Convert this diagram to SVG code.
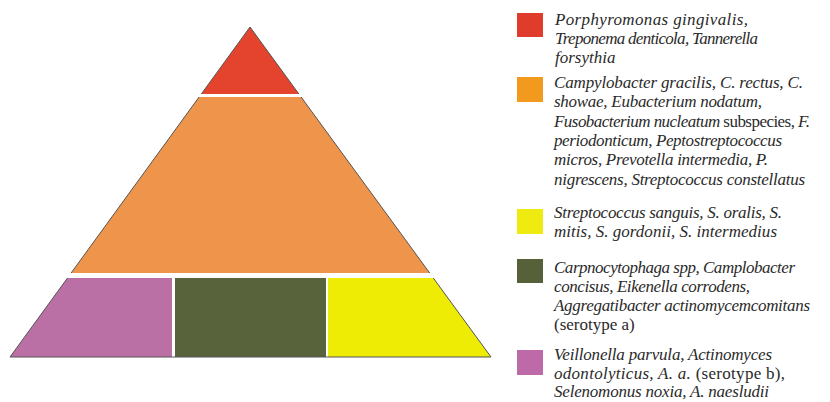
<svg xmlns="http://www.w3.org/2000/svg" width="830" height="402" viewBox="0 0 830 402">
<style>
.lg{font-family:"Liberation Serif","Times New Roman",serif;font-size:17px;fill:#2a2a2a;font-style:italic}
.up{font-style:normal}
.edge{fill:none;stroke:#555;stroke-width:1}
</style>
<rect width="830" height="402" fill="#fff"/>
<g id="pyramid">
<g id="tier-red"><polygon points="250,27 201.3,94 298.9,94" fill="#E4432E"/></g>
<g id="tier-orange"><polygon points="199.1,97 301.1,97 429.7,273 71.1,273" fill="#EF944B"/></g>
<g id="tier-purple"><polygon points="67.5,278 172,278 172,357 10,357" fill="#BA6FA5"/></g>
<g id="tier-green"><rect x="175" y="278" width="151" height="79" fill="#59633B"/></g>
<g id="tier-yellow"><polygon points="328,278 433.3,278 491,357 328,357" fill="#EEEB05"/></g>
<polyline class="edge" points="201.3,94 250,27 298.9,94"/>
<line class="edge" x1="199.1" y1="97" x2="71.1" y2="273"/>
<line class="edge" x1="301.1" y1="97" x2="429.7" y2="273"/>
<polyline class="edge" points="67.5,278 10,357 491,357 433.3,278"/>
</g>
<g id="legend-red">
<rect x="517" y="13" width="26" height="24" fill="#E03C2C"/>
<text class="lg" x="555" y="25" textLength="193">Porphyromonas gingivalis,</text>
<text class="lg" x="555" y="44" textLength="203">Treponema denticola, Tannerella</text>
<text class="lg" x="555" y="63">forsythia</text>
</g>
<g id="legend-orange">
<rect x="517" y="77" width="26" height="25" fill="#F29A1E"/>
<text class="lg" x="554" y="88" textLength="249">Campylobacter gracilis, C. rectus, C.</text>
<text class="lg" x="554" y="107.3" textLength="208">showae, Eubacterium nodatum,</text>
<text class="lg" x="554" y="126.6" textLength="256">Fusobacterium nucleatum <tspan class="up">subspecies,</tspan> F.</text>
<text class="lg" x="554" y="145.9" textLength="228">periodonticum, Peptostreptococcus</text>
<text class="lg" x="554" y="165.2" textLength="214">micros, Prevotella intermedia, P.</text>
<text class="lg" x="554" y="184.5" textLength="251">nigrescens, Streptococcus constellatus</text>
</g>
<g id="legend-yellow">
<rect x="517" y="209" width="26" height="25" fill="#EFEB10"/>
<text class="lg" x="554" y="218" textLength="228">Streptococcus sanguis, S. oralis, S.</text>
<text class="lg" x="554" y="237" textLength="223">mitis, S. gordonii, S. intermedius</text>
</g>
<g id="legend-green">
<rect x="517" y="259" width="26" height="24" fill="#56613A"/>
<text class="lg" x="554" y="273" textLength="241">Carpnocytophaga spp, Camplobacter</text>
<text class="lg" x="554" y="292" textLength="196">concisus, Eikenella corrodens,</text>
<text class="lg" x="554" y="311" textLength="256">Aggregatibacter actinomycemcomitans</text>
<text class="lg up" x="554" y="330">(serotype a)</text>
</g>
<g id="legend-pink">
<rect x="517" y="350" width="26" height="25" fill="#BE6AA8"/>
<text class="lg" x="554" y="360" textLength="218">Veillonella parvula, Actinomyces</text>
<text class="lg" x="554" y="379" textLength="231">odontolyticus, A. a. <tspan class="up">(serotype b),</tspan></text>
<text class="lg" x="554" y="397" textLength="215">Selenomonus noxia, A. naesludii</text>
</g>
</svg>
